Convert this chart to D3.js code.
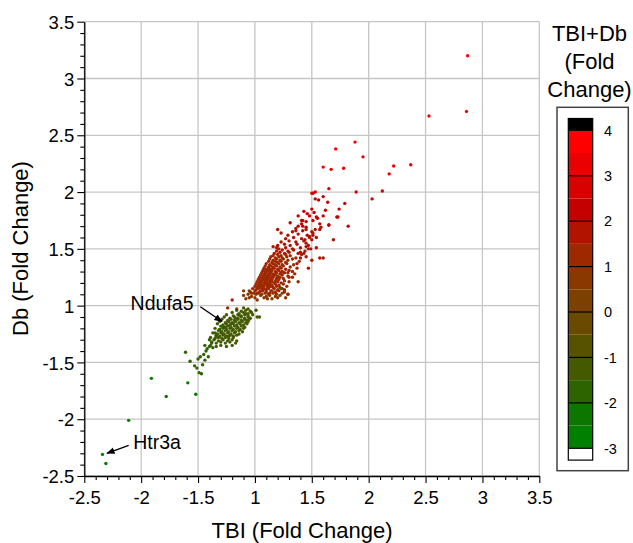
<!DOCTYPE html>
<html>
<head>
<meta charset="utf-8">
<script src="https://cdn.jsdelivr.net/npm/d3@7"></script>
<style>
  body { margin: 0; background: #fff; }
  svg { font-family: "Liberation Sans", Arial, Helvetica, sans-serif; }
</style>
</head>
<body>
<div id="chart"></div>
<script>
const width = 633;
const height = 543;

// tick labels in fold change (-1 and 1 sit on the same spot)
const axisTicks = [-2.5, -2, -1.5, 1, 1.5, 2, 2.5, 3, 3.5];
const legendTicks = [4, 3, 2, 1, 0, -1, -2, -3];
const bandEdges = [-3, -2.5, -2, -1.5, -1, -0.5, 0, 0.5, 1, 1.5, 2, 2.5, 3, 3.5, 4];
const bandColors = [
  "#008000", "#0c7600", "#2e6400", "#455a00", "#565200", "#6a4900", "#7c4000",
  "#8a3800", "#9e2800", "#b21200", "#c50000", "#d90000", "#ea0000", "#ff0000",
];

// [TBI, Db] fold changes, grouped by their TBI+Db colour
const redLow = [
  [-1.08, 1.06], [-1.05, 1.07], [1.02, 1.05], [1.08, 1.07], [1.15, 1.06], [1.20, 1.07],
  [-1.10, 1.09], [-1.03, 1.08], [1.00, 1.07], [1.05, 1.09], [1.10, 1.08], [1.13, 1.09],
  [1.18, 1.08], [1.22, 1.09], [1.27, 1.07], [-1.06, 1.10], [-1.01, 1.11], [1.01, 1.10],
  [1.03, 1.11], [1.06, 1.10], [1.09, 1.11], [1.12, 1.10], [1.16, 1.11], [1.19, 1.10],
  [1.24, 1.11], [-1.10, 1.13], [-1.05, 1.13], [-1.03, 1.11], [1.29, 1.10], [1.11, 1.06],
];
const redCore = [
  [-1.04, 1.12], [1.00, 1.13], [1.02, 1.11], [1.04, 1.12], [1.07, 1.13], [1.10, 1.12],
  [1.13, 1.11], [1.15, 1.13], [1.18, 1.12], [1.21, 1.13], [1.26, 1.12],
  [-1.02, 1.15], [1.01, 1.14], [1.03, 1.15], [1.05, 1.13], [1.08, 1.15], [1.10, 1.14],
  [1.12, 1.15], [1.14, 1.13], [1.17, 1.15], [1.20, 1.14], [1.24, 1.15],
  [1.00, 1.17], [1.02, 1.16], [1.04, 1.17], [1.06, 1.16], [1.08, 1.17], [1.11, 1.16],
  [1.13, 1.17], [1.16, 1.16], [1.19, 1.17], [1.22, 1.16], [1.28, 1.17],
  [1.01, 1.19], [1.03, 1.18], [1.05, 1.19], [1.07, 1.18], [1.09, 1.19], [1.11, 1.18],
  [1.13, 1.19], [1.15, 1.18], [1.18, 1.19], [1.21, 1.18], [1.25, 1.19],
  [1.02, 1.21], [1.04, 1.20], [1.06, 1.21], [1.08, 1.20], [1.10, 1.21], [1.12, 1.20],
  [1.14, 1.21], [1.17, 1.20], [1.20, 1.21], [1.23, 1.20], [1.30, 1.21],
  [1.03, 1.23], [1.05, 1.22], [1.07, 1.23], [1.09, 1.22], [1.11, 1.23], [1.13, 1.22],
  [1.15, 1.23], [1.18, 1.22], [1.21, 1.23], [1.26, 1.22],
  [1.04, 1.25], [1.06, 1.24], [1.08, 1.25], [1.10, 1.24], [1.12, 1.25], [1.14, 1.24],
  [1.16, 1.25], [1.19, 1.24], [1.22, 1.25], [1.25, 1.24], [1.33, 1.25],
  [1.05, 1.27], [1.07, 1.26], [1.09, 1.27], [1.11, 1.26], [1.13, 1.27], [1.15, 1.26],
  [1.17, 1.27], [1.20, 1.26], [1.24, 1.27], [1.29, 1.26],
  [1.06, 1.29], [1.08, 1.28], [1.10, 1.29], [1.12, 1.28], [1.14, 1.29], [1.16, 1.28],
  [1.19, 1.29], [1.22, 1.28], [1.26, 1.29], [1.35, 1.28],
  [1.07, 1.31], [1.09, 1.30], [1.11, 1.31], [1.13, 1.30], [1.15, 1.31], [1.18, 1.30],
  [1.21, 1.31], [1.24, 1.30], [1.30, 1.31],
  [1.08, 1.33], [1.10, 1.32], [1.12, 1.33], [1.14, 1.32], [1.17, 1.33], [1.20, 1.32],
  [1.23, 1.33], [1.27, 1.32], [1.37, 1.33],
  [1.09, 1.35], [1.12, 1.34], [1.14, 1.35], [1.16, 1.34], [1.19, 1.35], [1.22, 1.34],
  [1.25, 1.35], [1.31, 1.34],
  [1.10, 1.37], [1.13, 1.36], [1.16, 1.37], [1.18, 1.36], [1.21, 1.37], [1.24, 1.36],
  [1.28, 1.37], [1.34, 1.36],
  [1.12, 1.39], [1.15, 1.38], [1.18, 1.39], [1.20, 1.38], [1.23, 1.39], [1.27, 1.38], [1.39, 1.39],
  [1.13, 1.41], [1.16, 1.40], [1.19, 1.41], [1.22, 1.40], [1.25, 1.41], [1.29, 1.40], [1.33, 1.41],
  [1.14, 1.43], [1.18, 1.42], [1.21, 1.43], [1.24, 1.42], [1.28, 1.43], [1.36, 1.42],
  [1.16, 1.44], [1.20, 1.45], [1.23, 1.44], [1.27, 1.45], [1.31, 1.44], [1.41, 1.45],
  [1.26, 1.14], [1.29, 1.10], [1.30, 1.25], [1.29, 1.29], [1.33, 1.30], [1.38, 1.21],
  [1.06, 1.15], [1.09, 1.24], [1.12, 1.31], [1.15, 1.21], [1.18, 1.27], [1.04, 1.18],
  [1.23, 1.29], [1.11, 1.19], [1.16, 1.33], [1.07, 1.14], [1.20, 1.24], [1.14, 1.17],
];
const redUpper = [
  [1.17, 1.46], [1.22, 1.47], [1.26, 1.46], [1.30, 1.47], [1.38, 1.46],
  [1.19, 1.48], [1.24, 1.49], [1.29, 1.48], [1.34, 1.49], [1.44, 1.48],
  [1.21, 1.50], [1.27, 1.51], [1.33, 1.50], [1.40, 1.51],
  [1.20, 1.53], [1.26, 1.54], [1.31, 1.53], [1.37, 1.54], [1.47, 1.53],
  [1.23, 1.56], [1.30, 1.57], [1.36, 1.56], [1.43, 1.57],
  [1.27, 1.59], [1.34, 1.60], [1.41, 1.59], [1.50, 1.58],
  [1.29, 1.62], [1.38, 1.63], [1.46, 1.62], [1.33, 1.65], [1.42, 1.66], [1.50, 1.65],
  [1.36, 1.68], [1.45, 1.69], [1.53, 1.67], [1.20, 1.67], [1.23, 1.64], [1.36, 1.66],
  [1.45, 1.67], [1.44, 1.58], [1.45, 1.55], [1.48, 1.60], [1.49, 1.50], [1.51, 1.64],
  [1.54, 1.51], [1.54, 1.60], [1.57, 1.67], [1.51, 1.62], [1.48, 1.61], [1.45, 1.52],
  [1.47, 1.50], [1.43, 1.46], [1.40, 1.42], [1.69, 1.58], [1.58, 1.69],
  [1.47, 1.33], [1.50, 1.40], [1.37, 1.37], [1.45, 1.43], [1.40, 1.47], [1.57, 1.42],
  [1.60, 1.42], [1.16, 1.52], [1.19, 1.51],
];
const red22 = [
  [1.31, 1.73], [1.42, 1.75], [1.38, 1.79], [1.43, 1.83], [1.46, 1.81], [1.48, 1.79],
  [1.50, 1.85], [1.52, 1.82], [1.55, 1.77], [1.57, 1.72], [1.60, 1.79], [1.62, 1.84],
  [1.65, 1.71], [1.73, 1.78], [1.82, 1.70], [1.53, 1.94], [1.56, 1.93], [1.60, 1.96],
  [1.64, 1.91], [1.79, 1.90], [1.74, 1.85], [1.41, 1.72], [1.38, 1.70], [1.42, 1.70],
  [1.72, 1.78], [1.51, 1.75], [1.54, 1.78], [1.45, 1.74], [1.41, 1.75], [1.65, 1.71],
];
const red27 = [
  [1.50, 1.99], [1.51, 1.99], [1.53, 2.00], [1.65, 2.03], [1.89, 2.00], [2.03, 1.94], [2.12, 2.01],
];
const red32 = [
  [1.60, 2.22], [1.67, 2.20], [1.78, 2.21], [2.18, 2.16], [2.22, 2.23], [2.37, 2.24], [1.95, 2.31],
];
const red37 = [[1.71, 2.38], [1.88, 2.44], [2.53, 2.67], [2.86, 2.71], [2.87, 3.20]];
const orangeInGreen = [[-1.24, -1.02], [-1.20, 1.05], [-1.16, -1.03]];
const greenInRed = [[1.23, 1.15]];
const greenCore = [
  [-1.10, -1.02], [-1.06, -1.03], [1.01, -1.04], [1.04, -1.10], [1.02, -1.10], [-1.08, -1.07],
  [-1.16, -1.04], [-1.12, -1.05], [-1.08, -1.04], [-1.04, -1.05],
  [-1.20, -1.06], [-1.14, -1.07], [-1.10, -1.06], [-1.06, -1.07], [-1.03, -1.06],
  [-1.25, -1.08], [-1.19, -1.09], [-1.15, -1.08], [-1.12, -1.09], [-1.09, -1.08], [-1.06, -1.09], [-1.02, -1.08],
  [-1.27, -1.10], [-1.22, -1.11], [-1.18, -1.10], [-1.15, -1.11], [-1.12, -1.10], [-1.09, -1.11],
  [-1.06, -1.10], [-1.04, -1.11],
  [-1.29, -1.12], [-1.24, -1.13], [-1.21, -1.12], [-1.18, -1.13], [-1.15, -1.12], [-1.12, -1.13],
  [-1.09, -1.12], [-1.07, -1.13], [-1.05, -1.12],
  [-1.31, -1.14], [-1.26, -1.15], [-1.23, -1.14], [-1.20, -1.15], [-1.17, -1.14], [-1.14, -1.15],
  [-1.11, -1.14], [-1.08, -1.15], [-1.06, -1.14],
  [-1.33, -1.16], [-1.28, -1.17], [-1.25, -1.16], [-1.22, -1.17], [-1.19, -1.16], [-1.16, -1.17],
  [-1.13, -1.16], [-1.10, -1.17], [-1.07, -1.16],
  [-1.30, -1.18], [-1.27, -1.19], [-1.24, -1.18], [-1.21, -1.19], [-1.18, -1.18], [-1.15, -1.19],
  [-1.12, -1.18], [-1.09, -1.19],
  [-1.35, -1.20], [-1.31, -1.21], [-1.28, -1.20], [-1.25, -1.21], [-1.22, -1.20], [-1.19, -1.21],
  [-1.16, -1.20], [-1.13, -1.21], [-1.10, -1.20],
  [-1.32, -1.22], [-1.29, -1.23], [-1.26, -1.22], [-1.23, -1.23], [-1.20, -1.22], [-1.17, -1.23],
  [-1.14, -1.22], [-1.11, -1.23],
  [-1.37, -1.24], [-1.33, -1.25], [-1.30, -1.24], [-1.27, -1.25], [-1.24, -1.24], [-1.21, -1.25],
  [-1.18, -1.24], [-1.14, -1.25],
  [-1.34, -1.26], [-1.31, -1.27], [-1.28, -1.26], [-1.25, -1.27], [-1.22, -1.26], [-1.19, -1.27], [-1.16, -1.26],
  [-1.39, -1.28], [-1.35, -1.29], [-1.32, -1.28], [-1.29, -1.29], [-1.26, -1.28], [-1.23, -1.29], [-1.19, -1.28],
  [-1.36, -1.30], [-1.32, -1.31], [-1.28, -1.30], [-1.24, -1.31], [-1.20, -1.30], [-1.16, -1.31],
  [-1.38, -1.32], [-1.34, -1.33], [-1.30, -1.32], [-1.26, -1.33], [-1.22, -1.32], [-1.17, -1.33],
  [-1.39, -1.35], [-1.34, -1.36], [-1.30, -1.35], [-1.25, -1.36], [-1.20, -1.35],
  [-1.21, -1.16], [-1.26, -1.19], [-1.17, -1.11], [-1.29, -1.24], [-1.13, -1.09], [-1.23, -1.27],
];
const greenTail = [
  [-1.61, -1.41], [-1.57, -1.49], [-1.53, -1.53], [-1.49, -1.59], [-1.47, -1.60], [-1.48, -1.45],
  [-1.45, -1.43], [-1.44, -1.48], [-1.41, -1.45], [-1.42, -1.38], [-1.40, -1.36], [-1.37, -1.37],
  [-1.40, -1.30], [-1.35, -1.24], [-1.34, -1.27], [-1.31, -1.21], [-1.28, -1.19], [-1.51, -1.55],
  [-1.46, -1.52], [-1.43, -1.40], [-1.38, -1.33], [-1.44, -1.35], [-1.50, -1.47],
];
const greenFar = [[-1.91, -1.64], [-1.78, -1.80], [-1.59, -1.68], [-1.52, -1.78]];
const greenFarthest = [[-2.11, -2.01], [-2.34, -2.31], [-2.31, -2.39]];

// TBI+Db fold change
const groups = [
  { value: 0.8, points: redLow },
  { value: 1.2, points: redCore },
  { value: 1.7, points: redUpper },
  { value: 2.2, points: red22 },
  { value: 2.7, points: red27 },
  { value: 3.2, points: red32 },
  { value: 3.7, points: red37 },
  { value: 1.2, points: orangeInGreen },
  { value: -1.2, points: greenCore },
  { value: -1.7, points: greenTail },
  { value: -1.3, points: greenInRed },
  { value: -2.2, points: greenFar },
  { value: -2.7, points: greenFarthest },
];

// gene labels: text spot, arrow start, arrow tip (fold change)
const notes = [
  { label: "Ndufa5", anchor: "end", text: [-1.54, -1.04], from: [-1.48, -1.01], to: [-1.29, -1.14] },
  { label: "Htr3a", anchor: "start", text: [-2.07, -2.26], from: [-2.11, -2.23], to: [-2.30, -2.30] },
];

// fold change -> straight axis position, -1 and 1 collapse to 0
function fold(v) {
  return v > 0 ? v - 1 : v + 1;
}

const svg = d3
  .select("#chart")
  .append("svg")
  .attr("width", width)
  .attr("height", height);

const x = d3.scaleLinear().domain([fold(-2.5), fold(3.5)]).range([84.3, 539.3]);
const y = d3.scaleLinear().domain([fold(-2.5), fold(3.5)]).range([476, 21.7]);
const colour = d3
  .scaleThreshold()
  .domain(bandEdges)
  .range(["#ffffff"].concat(bandColors, ["#000000"]));

const majors = axisTicks.map(fold);
const minors = d3.range(-15, 26).map(i => i / 10).filter(u => Math.abs(u * 2 - Math.round(u * 2)) > 1e-6);

// grid
svg.append("g")
  .selectAll("line")
  .data(majors)
  .join("line")
  .attr("x1", d => x(d)).attr("x2", d => x(d))
  .attr("y1", y.range()[0]).attr("y2", y.range()[1])
  .attr("stroke", "#c6c6c6").attr("stroke-width", 1.3);
svg.append("g")
  .selectAll("line")
  .data(majors)
  .join("line")
  .attr("y1", d => y(d)).attr("y2", d => y(d))
  .attr("x1", x.range()[0]).attr("x2", x.range()[1])
  .attr("stroke", "#c6c6c6").attr("stroke-width", 1.3);

// points
groups.forEach(g => {
  svg.append("g")
    .selectAll("circle")
    .data(g.points)
    .join("circle")
    .attr("cx", d => x(fold(d[0])))
    .attr("cy", d => y(fold(d[1])))
    .attr("r", 1.7)
    .attr("fill", colour(g.value));
});

// axes
const xAxis = svg.append("g")
  .attr("transform", `translate(0,${y.range()[0]})`)
  .call(d3.axisBottom(x).tickValues(majors).tickSize(7).tickSizeOuter(0)
    .tickFormat((d, i) => String(axisTicks[i])));
svg.append("g")
  .attr("transform", `translate(0,${y.range()[0]})`)
  .call(d3.axisBottom(x).tickValues(minors).tickSize(4).tickFormat(""))
  .call(g => g.select(".domain").remove());

const yAxis = svg.append("g")
  .attr("transform", `translate(${x.range()[0]},0)`)
  .call(d3.axisLeft(y).tickValues(majors).tickSize(7).tickSizeOuter(0)
    .tickFormat((d, i) => String(axisTicks[i])));
svg.append("g")
  .attr("transform", `translate(${x.range()[0]},0)`)
  .call(d3.axisLeft(y).tickValues(minors).tickSize(4).tickFormat(""))
  .call(g => g.select(".domain").remove());

svg.selectAll(".tick line").attr("stroke", "#000").attr("stroke-width", 1.1);
svg.selectAll(".domain").attr("stroke", "#000").attr("stroke-width", 1.3);
xAxis.selectAll("text")
  .attr("y", 28).attr("dy", 0)
  .attr("font-size", 18.5).attr("fill", "#000").attr("font-family", null);
yAxis.selectAll("text")
  .attr("x", -10).attr("dy", "0.36em")
  .attr("font-size", 18.5).attr("fill", "#000").attr("font-family", null);

// axis titles
svg.append("text")
  .attr("x", 302).attr("y", 537.5)
  .attr("text-anchor", "middle").attr("font-size", 22)
  .text("TBI (Fold Change)");
svg.append("text")
  .attr("transform", "translate(27.5,248.5) rotate(-90)")
  .attr("text-anchor", "middle").attr("font-size", 22)
  .text("Db (Fold Change)");

// gene annotations
svg.append("defs").append("marker")
  .attr("id", "head")
  .attr("viewBox", "0 0 10 10")
  .attr("refX", 9).attr("refY", 5)
  .attr("markerWidth", 6).attr("markerHeight", 6)
  .attr("markerUnits", "strokeWidth")
  .attr("orient", "auto")
  .append("path")
  .attr("d", "M0,1 L10,5 L0,9 Z")
  .attr("fill", "#000");

notes.forEach(n => {
  svg.append("line")
    .attr("x1", x(fold(n.from[0]))).attr("y1", y(fold(n.from[1])))
    .attr("x2", x(fold(n.to[0]))).attr("y2", y(fold(n.to[1])))
    .attr("stroke", "#000").attr("stroke-width", 1.4)
    .attr("marker-end", "url(#head)");
  svg.append("text")
    .attr("x", x(fold(n.text[0]))).attr("y", y(fold(n.text[1])))
    .attr("text-anchor", n.anchor).attr("font-size", 19.5)
    .text(n.label);
});

// colour legend
const c = d3.scaleLinear().domain([-3, 4]).range([448.3, 130.3]);
const legend = svg.append("g");
legend.append("rect")
  .attr("x", 557).attr("y", 107.3)
  .attr("width", 71.3).attr("height", 363.4)
  .attr("fill", "none").attr("stroke", "#444").attr("stroke-width", 1.5);

["TBI+Db", "(Fold", "Change)"].forEach((t, i) => {
  legend.append("text")
    .attr("x", 589.5).attr("y", 41 + i * 27.8)
    .attr("text-anchor", "middle").attr("font-size", 22)
    .text(t);
});

const barX = 568.3;
const barW = 24.4;
legend.append("g")
  .selectAll("rect")
  .data(bandColors)
  .join("rect")
  .attr("x", barX).attr("width", barW)
  .attr("y", (d, i) => c(bandEdges[i + 1]))
  .attr("height", (d, i) => c(bandEdges[i]) - c(bandEdges[i + 1]))
  .attr("fill", d => d);
// over / under boxes
legend.append("rect")
  .attr("x", barX).attr("width", barW)
  .attr("y", c(4.26)).attr("height", c(4) - c(4.26))
  .attr("fill", "#000");
legend.append("rect")
  .attr("x", barX).attr("width", barW)
  .attr("y", c(-3)).attr("height", c(-3.26) - c(-3))
  .attr("fill", "#fff");
legend.append("rect")
  .attr("x", barX).attr("width", barW)
  .attr("y", c(4.26)).attr("height", c(-3.26) - c(4.26))
  .attr("fill", "none").attr("stroke", "#000").attr("stroke-width", 1.2);
legend.append("g")
  .selectAll("line")
  .data(legendTicks)
  .join("line")
  .attr("x1", barX).attr("x2", barX + barW)
  .attr("y1", d => c(d)).attr("y2", d => c(d))
  .attr("stroke", "#000").attr("stroke-width", 1.2);
legend.append("g")
  .selectAll("text")
  .data(legendTicks)
  .join("text")
  .attr("x", 604).attr("y", d => c(d))
  .attr("dy", "0.36em").attr("font-size", 14.5)
  .text(d => String(d));
</script>
</body>
</html>
